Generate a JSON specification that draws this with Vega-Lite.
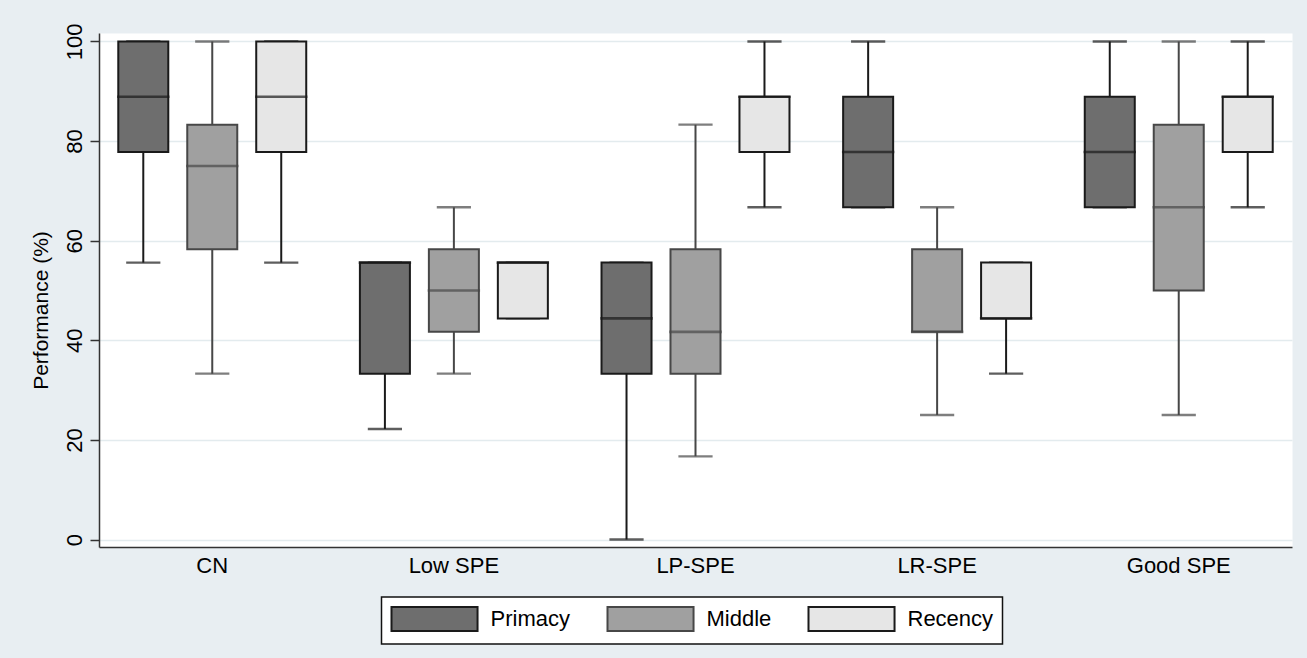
{
  "$schema": "https://vega.github.io/schema/vega-lite/v6.json",
  "width": 1193,
  "height": 514,
  "autosize": {"type": "none"},
  "padding": {"left": 99, "top": 33, "right": 15, "bottom": 111},
  "background": "#e8eef2",
  "data": {
    "values": [
      {"group": "CN", "series": "Primacy", "min": 55.6, "q1": 77.8, "median": 88.9, "q3": 100, "max": 100},
      {"group": "CN", "series": "Middle", "min": 33.3, "q1": 58.3, "median": 75, "q3": 83.3, "max": 100},
      {"group": "CN", "series": "Recency", "min": 55.6, "q1": 77.8, "median": 88.9, "q3": 100, "max": 100},
      {"group": "Low SPE", "series": "Primacy", "min": 22.2, "q1": 33.3, "median": 55.6, "q3": 55.6, "max": 55.6},
      {"group": "Low SPE", "series": "Middle", "min": 33.3, "q1": 41.7, "median": 50, "q3": 58.3, "max": 66.7},
      {"group": "Low SPE", "series": "Recency", "min": 44.4, "q1": 44.4, "median": 55.6, "q3": 55.6, "max": 55.6},
      {"group": "LP-SPE", "series": "Primacy", "min": 0, "q1": 33.3, "median": 44.4, "q3": 55.6, "max": 55.6},
      {"group": "LP-SPE", "series": "Middle", "min": 16.7, "q1": 33.3, "median": 41.7, "q3": 58.3, "max": 83.3},
      {"group": "LP-SPE", "series": "Recency", "min": 66.7, "q1": 77.8, "median": 88.9, "q3": 88.9, "max": 100},
      {"group": "LR-SPE", "series": "Primacy", "min": 66.7, "q1": 66.7, "median": 77.8, "q3": 88.9, "max": 100},
      {"group": "LR-SPE", "series": "Middle", "min": 25, "q1": 41.7, "median": 41.7, "q3": 58.3, "max": 66.7},
      {"group": "LR-SPE", "series": "Recency", "min": 33.3, "q1": 44.4, "median": 44.4, "q3": 55.6, "max": 55.6},
      {"group": "Good SPE", "series": "Primacy", "min": 66.7, "q1": 66.7, "median": 77.8, "q3": 88.9, "max": 100},
      {"group": "Good SPE", "series": "Middle", "min": 25, "q1": 50, "median": 66.7, "q3": 83.3, "max": 100},
      {"group": "Good SPE", "series": "Recency", "min": 66.7, "q1": 77.8, "median": 88.9, "q3": 88.9, "max": 100}
    ]
  },
  "encoding": {
    "x": {
      "field": "group", "type": "nominal",
      "sort": ["CN", "Low SPE", "LP-SPE", "LR-SPE", "Good SPE"],
      "scale": {"type": "band", "paddingInner": 0.0625, "paddingOuter": 0},
      "axis": {
        "title": null, "ticks": false, "labelAngle": 0, "labelFontSize": 22,
        "labelPadding": 8, "labelColor": "#000", "domainColor": "#333", "domainWidth": 1.5, "grid": false
      }
    },
    "xOffset": {
      "field": "series", "type": "nominal",
      "sort": ["Primacy", "Middle", "Recency"],
      "scale": {"paddingInner": 0.275, "paddingOuter": 0.2795}
    }
  },
  "layer": [
    {
      "mark": {"type": "rule", "strokeWidth": 2},
      "encoding": {
        "y": {
          "field": "min", "type": "quantitative",
          "scale": {"domain": [-1.5, 101.7], "nice": false, "zero": false},
          "axis": {
            "values": [0, 20, 40, 60, 80, 100],
            "title": "Performance (%)", "titleFontSize": 21, "titleFontWeight": "normal", "titleColor": "#000",
            "titlePadding": 12, "titleY": 277,
            "labelAngle": -90, "labelAlign": "center", "labelBaseline": "alphabetic", "labelFontSize": 22,
            "labelPadding": 9, "labelColor": "#000",
            "tickSize": 9, "tickColor": "#333", "tickWidth": 1.5,
            "domainColor": "#333", "domainWidth": 1.5,
            "grid": true, "gridColor": "#e3ebee", "gridWidth": 1.5
          }
        },
        "y2": {"field": "max"},
        "stroke": {
          "field": "series", "type": "nominal",
          "scale": {"domain": ["Primacy", "Middle", "Recency"], "range": ["#1a1a1a", "#474747", "#1a1a1a"]},
          "legend": {"title": null}
        }
      }
    },
    {
      "mark": {"type": "tick", "filled": false, "thickness": 0.2, "size": 32, "strokeWidth": 2.2},
      "encoding": {
        "y": {"field": "min", "type": "quantitative"},
        "stroke": {"field": "series", "type": "nominal", "legend": {"title": null}}
      }
    },
    {
      "mark": {"type": "tick", "filled": false, "thickness": 0.2, "size": 32, "strokeWidth": 2.2},
      "encoding": {
        "y": {"field": "max", "type": "quantitative"},
        "stroke": {"field": "series", "type": "nominal", "legend": {"title": null}}
      }
    },
    {
      "mark": {"type": "bar", "strokeWidth": 2, "fillOpacity": 1},
      "encoding": {
        "y": {"field": "q1", "type": "quantitative"},
        "y2": {"field": "q3"},
        "fill": {
          "field": "series", "type": "nominal",
          "scale": {"domain": ["Primacy", "Middle", "Recency"], "range": ["#6e6e6e", "#a0a0a0", "#e6e6e6"]},
          "legend": {"title": null}
        },
        "stroke": {"field": "series", "type": "nominal", "legend": {"title": null}}
      }
    },
    {
      "mark": {"type": "tick", "filled": false, "thickness": 0.2, "size": 50, "strokeWidth": 2.4},
      "encoding": {
        "y": {"field": "median", "type": "quantitative"},
        "stroke": {"field": "series", "type": "nominal", "legend": {"title": null}}
      }
    }
  ],
  "config": {
    "font": "Liberation Sans",
    "view": {"fill": "white", "stroke": "transparent"},
    "legend": {
      "orient": "none",
      "legendX": 282.5,
      "legendY": 564,
      "direction": "horizontal",
      "fillColor": "white",
      "strokeColor": "#111",
      "strokeWidth": 1.5,
      "padding": 9,
      "labelFontSize": 22,
      "labelColor": "#000",
      "labelOffset": 74,
      "columnPadding": 33,
      "symbolType": "M-1,-1 L6.17,-1 L6.17,1 L-1,1 Z",
      "symbolSize": 576,
      "symbolStrokeWidth": 2,
      "symbolOpacity": 1
    }
  }
}
